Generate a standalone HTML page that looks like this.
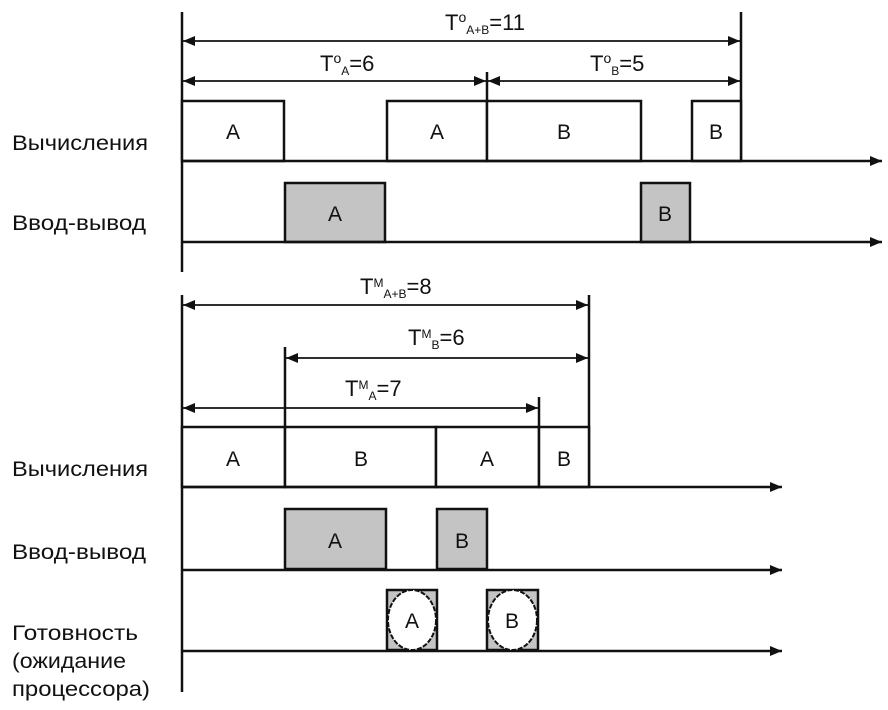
<!DOCTYPE html>
<html><head><meta charset="utf-8"><style>
html,body{margin:0;padding:0;background:#fff}
svg{display:block}
text{font-family:"Liberation Sans",Arial,sans-serif;fill:#111}
</style></head><body>
<svg width="888" height="710" viewBox="0 0 888 710" xmlns="http://www.w3.org/2000/svg">
<defs>
<marker id="ah" markerWidth="12" markerHeight="10" refX="12" refY="5" orient="auto" markerUnits="userSpaceOnUse">
<path d="M0,0 L12,5 L0,10 Z" fill="#111"/>
</marker>
<marker id="as" markerWidth="12" markerHeight="10" refX="0" refY="5" orient="auto" markerUnits="userSpaceOnUse">
<path d="M12,0 L0,5 L12,10 Z" fill="#111"/>
</marker>
</defs>
<g stroke="#111" fill="none" stroke-width="2.5">
<line x1="182" y1="12" x2="182" y2="272"/>
<line x1="741" y1="12" x2="741" y2="161"/>
<line x1="487" y1="72" x2="487" y2="161"/>
<rect x="182" y="101" width="102" height="60" fill="#fff"/>
<rect x="387" y="101" width="100" height="60" fill="#fff"/>
<rect x="487" y="101" width="154" height="60" fill="#fff"/>
<rect x="692" y="101" width="49" height="60" fill="#fff"/>
<rect x="285" y="183" width="100" height="59" fill="#c4c4c4"/>
<rect x="641" y="183" width="49" height="59" fill="#c4c4c4"/>
<line x1="182" y1="161" x2="882" y2="161" marker-end="url(#ah)"/>
<line x1="182" y1="242" x2="882" y2="242" marker-end="url(#ah)"/>
<line x1="182" y1="295" x2="182" y2="692"/>
<line x1="589" y1="295" x2="589" y2="487"/>
<line x1="285" y1="347" x2="285" y2="487"/>
<line x1="539" y1="397" x2="539" y2="487"/>
<rect x="182" y="427" width="103" height="60" fill="#fff"/>
<rect x="285" y="427" width="151" height="60" fill="#fff"/>
<rect x="436" y="427" width="103" height="60" fill="#fff"/>
<rect x="539" y="427" width="50" height="60" fill="#fff"/>
<rect x="285" y="509" width="101" height="60" fill="#c4c4c4"/>
<rect x="437" y="509" width="50" height="60" fill="#c4c4c4"/>
<rect x="387" y="590" width="50" height="60" fill="#c4c4c4"/>
<rect x="487" y="590" width="51" height="60" fill="#c4c4c4"/>
<line x1="182" y1="487" x2="782" y2="487" marker-end="url(#ah)"/>
<line x1="182" y1="570" x2="782" y2="570" marker-end="url(#ah)"/>
<line x1="182" y1="651" x2="782" y2="651" marker-end="url(#ah)"/>
</g>
<g stroke="#111" stroke-width="2" fill="#fff" stroke-dasharray="5,1.5">
<ellipse cx="412" cy="620" rx="24" ry="30"/>
<ellipse cx="512.5" cy="620" rx="24.5" ry="30"/>
</g>
<g stroke="#111" stroke-width="1.8">
<line x1="183" y1="41" x2="740" y2="41" marker-start="url(#as)" marker-end="url(#ah)"/>
<line x1="183" y1="81" x2="486" y2="81" marker-start="url(#as)" marker-end="url(#ah)"/>
<line x1="488" y1="81" x2="740" y2="81" marker-start="url(#as)" marker-end="url(#ah)"/>
<line x1="183" y1="305" x2="588" y2="305" marker-start="url(#as)" marker-end="url(#ah)"/>
<line x1="286" y1="358" x2="588" y2="358" marker-start="url(#as)" marker-end="url(#ah)"/>
<line x1="183" y1="408" x2="538" y2="408" marker-start="url(#as)" marker-end="url(#ah)"/>
</g>
<g font-size="21" text-anchor="middle">
<text x="233" y="139">A</text><text x="437" y="139">A</text><text x="564" y="139">B</text><text x="716" y="139">B</text>
<text x="335" y="221">A</text><text x="665" y="221">B</text>
<text x="233" y="466">A</text><text x="361" y="466">B</text><text x="487" y="466">A</text><text x="564" y="466">B</text>
<text x="335" y="548">A</text><text x="462" y="548">B</text>
<text x="412" y="628">A</text><text x="512" y="628">B</text>
</g>
<g font-size="21">
<text x="12" y="150" textLength="136" lengthAdjust="spacingAndGlyphs">Вычисления</text>
<text x="12" y="230" textLength="134" lengthAdjust="spacingAndGlyphs">Ввод-вывод</text>
<text x="12" y="476" textLength="136" lengthAdjust="spacingAndGlyphs">Вычисления</text>
<text x="12" y="559" textLength="134" lengthAdjust="spacingAndGlyphs">Ввод-вывод</text>
<text x="12" y="640" textLength="126" lengthAdjust="spacingAndGlyphs">Готовность</text>
<text x="12" y="668" textLength="114" lengthAdjust="spacingAndGlyphs">(ожидание</text>
<text x="12" y="696" textLength="138" lengthAdjust="spacingAndGlyphs">процессора)</text>
</g>
<g font-size="22">
<text x="445" y="30">T<tspan font-size="14" dy="-8">o</tspan><tspan font-size="12" dy="12">A+B</tspan><tspan dy="-4">=11</tspan></text>
<text x="320" y="71">T<tspan font-size="14" dy="-8">o</tspan><tspan font-size="12" dy="12">A</tspan><tspan dy="-4">=6</tspan></text>
<text x="590" y="71">T<tspan font-size="14" dy="-8">o</tspan><tspan font-size="12" dy="12">B</tspan><tspan dy="-4">=5</tspan></text>
<text x="360" y="294">T<tspan font-size="12" dy="-7">M</tspan><tspan font-size="12" dy="11">A+B</tspan><tspan dy="-4">=8</tspan></text>
<text x="408" y="345">T<tspan font-size="12" dy="-7">M</tspan><tspan font-size="12" dy="11">B</tspan><tspan dy="-4">=6</tspan></text>
<text x="345" y="396">T<tspan font-size="12" dy="-7">M</tspan><tspan font-size="12" dy="11">A</tspan><tspan dy="-4">=7</tspan></text>
</g>
</svg>
</body></html>
